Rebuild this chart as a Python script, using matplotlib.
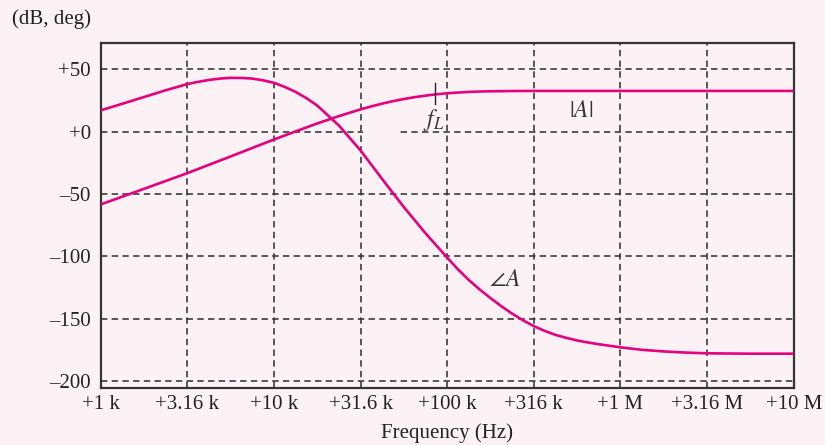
import matplotlib
matplotlib.use("Agg")
import matplotlib.pyplot as plt
from matplotlib.patches import Rectangle

plt.rcParams['font.family'] = ['Liberation Serif', 'DejaVu Serif']
plt.rcParams['mathtext.fontset'] = 'stix'

# ---- data ----
phase_freq = [1000, 1334, 1778, 2371, 3162, 3652, 4217, 4870, 5623, 6494, 7499, 8660,
              10000, 11548, 13335, 15399, 17783, 23714, 31623, 42170, 56234, 74989,
              100000, 115478, 133352, 153993, 177828, 205353, 237137, 273842, 316228,
              365174, 421697, 486968, 562341, 649382, 749894,
              1000000, 1333521, 1778279, 2371374, 3162278, 5623413, 10000000]
phase_deg = [17.2, 22.5, 27.9, 33.3, 38.3, 40.1, 41.6, 42.7, 43.3, 43.2, 42.7, 41.3,
             39.3, 36.0, 32.0, 27.0, 21.0, 5.0, -15.0, -38.0, -60.5, -81.5,
             -101.0, -110.5, -119.0, -126.6, -133.5, -140.0, -146.0, -151.3, -156.0,
             -159.8, -163.0, -165.4, -167.5, -169.1, -170.5,
             -173.0, -175.0, -176.3, -177.2, -177.8, -178.1, -178.1]

mag_freq = [1000, 1778, 3162, 5623, 10000, 13335, 17783, 23714, 31623, 36517,
            42170, 48697, 56234, 64938, 74989, 86596, 100000, 115478, 133352, 153993,
            177828, 237137, 316228, 1000000, 10000000]
mag_db = [-58.3, -45.8, -33.2, -19.8, -6.2, 0.3, 6.7, 12.6, 18.0, 20.4,
          22.6, 24.6, 26.3, 27.8, 29.0, 30.1, 30.9, 31.5, 32.0, 32.3,
          32.5, 32.7, 32.8, 32.8, 32.8]

x_ticks = [1e3, 3.16e3, 1e4, 3.16e4, 1e5, 3.16e5, 1e6, 3.16e6, 1e7]
x_labels = ['+1 k', '+3.16 k', '+10 k', '+31.6 k', '+100 k', '+316 k', '+1 M', '+3.16 M', '+10 M']
y_ticks = [50, 0, -50, -100, -150, -200]
y_labels = ['+50', '+0', '\u201350', '\u2013100', '\u2013150', '\u2013200']

f_L = 8.55e4
f_L_tick = [22.4, 38.9]

BG = '#fcf2f6'
CURVE = '#e6007e'

fig = plt.figure(figsize=(8.25, 4.45), dpi=100, facecolor=BG)
ax = fig.add_axes([100.7 / 825, 1 - 387.7 / 445, (793.7 - 100.7) / 825, (387.7 - 42.7) / 445])
ax.set_facecolor(BG)
ax.set_xscale('log')
ax.set_xlim(1e3, 1e7)
ax.set_ylim(-205.4, 71.5)

ax.set_xticks(x_ticks, labels=x_labels)
ax.set_yticks(y_ticks, labels=y_labels)
ax.minorticks_off()
ax.tick_params(length=0, labelsize=15, colors='#222222')
ax.tick_params(axis='y', pad=7)
ax.tick_params(axis='x', pad=5)

ax.grid(True, linestyle=(0, (4, 2.7)), color='#333333', lw=1.15, zorder=1)
ax.set_axisbelow(True)
for s in ax.spines.values():
    s.set_color('#333333')
    s.set_linewidth(1.6)

# small gap in the 0 gridline left of the f_L label
ax.add_patch(Rectangle((3.25e4, -2.5), 5.2e4 - 3.25e4, 5.0, facecolor=BG, edgecolor='none', zorder=1.5))

ax.plot(mag_freq, mag_db, color=CURVE, lw=1.9, zorder=3, solid_capstyle='butt', solid_joinstyle='round')
ax.plot(phase_freq, phase_deg, color=CURVE, lw=1.9, zorder=3, solid_capstyle='butt', solid_joinstyle='round')

ax.plot([f_L, f_L], f_L_tick, color='#222222', lw=1.0, zorder=4)
ax.text(8.36e4, 9.8, r'$f_L$', fontsize=17, ha='center', va='center', color='#333333', zorder=4)
ax.text(5.97e5, 16.3, r'$|A|$', fontsize=17, ha='center', va='center', color='#333333', zorder=4)
ax.text(2.16e5, -119.5, r'$\angle A$', fontsize=17, ha='center', va='center', color='#333333', zorder=4)

fig.text(51 / 825, 1 - 19 / 445, '(dB, deg)', fontsize=15, ha='center', va='center', color='#222222')
fig.text(446.5 / 825, 1 - 433.5 / 445, 'Frequency (Hz)', fontsize=15, ha='center', va='center', color='#222222')

fig.savefig('out.png', dpi=100, facecolor=BG)
